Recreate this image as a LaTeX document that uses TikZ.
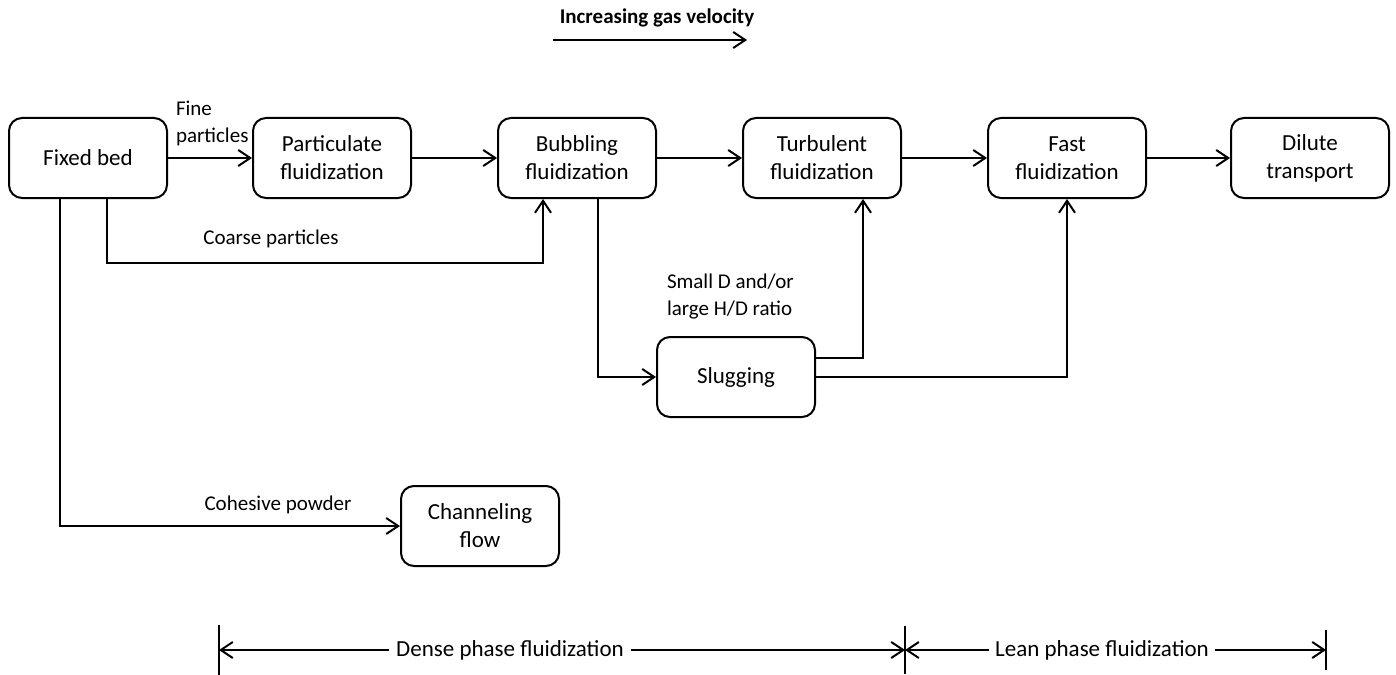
\documentclass[tikz,border=0pt]{standalone}
\usepackage{fontspec}
\setmainfont{Carlito}
\usetikzlibrary{arrows.meta}

\begin{document}
\begin{tikzpicture}[x=.5pt,y=-.5pt,>={Straight Barb[length=6pt,width=8pt]},line width=1pt,
  box/.style={draw,rounded corners=6.5pt,minimum width=79pt,minimum height=40pt,align=center,font=\fontsize{11.5}{14}\selectfont},
  lbl/.style={font=\fontsize{10.5}{13.5}\selectfont,align=left,inner sep=0pt}]
\useasboundingbox (0,0) rectangle (1396,674);

\node[box] (fixed) at (88,158) {Fixed bed};
\node[box] (part) at (332,158) {Particulate\\fluidization};
\node[box] (bub) at (577,158) {Bubbling\\fluidization};
\node[box] (turb) at (822,158) {Turbulent\\fluidization};
\node[box] (fast) at (1067,158) {Fast\\fluidization};
\node[box] (dil) at (1310,158) {Dilute\\transport};
\node[box] (slug) at (736,377) {Slugging};
\node[box] (chan) at (480,526) {Channeling\\flow};

\foreach \a/\b in {fixed/part,part/bub,bub/turb,turb/fast,fast/dil}
{
   \draw[->] (\a) -- (\b);
}

\node[lbl,anchor=west] (fine) at (175,123) {Fine\\particles};
\node[lbl] (coarse) at (271,239) {Coarse particles};
\node[lbl] (cohesive) at (278,505) {Cohesive powder};
\node[lbl,anchor=west] (small) at (666,297) {Small D and/or\\large H/D ratio};

\coordinate (c1) at (543,263);
\coordinate (c2) at (60,528);
\draw[->] ([xshift=9.5pt]fixed.south) |- (c1) -- (bub.south -| c1);
\draw[->] (fixed.south -| c2) |- (chan.west);
\draw[->] ([xshift=10.5pt]bub.south) |- (slug.west);
\draw[->] ([yshift=9.5pt]slug.east) -| ([xshift=20.5pt]turb.south);
\draw[->] (slug.east) -| (fast.south);

\node[font=\bfseries\fontsize{10.5}{13}\selectfont] (incr) at (657,18) {Increasing gas velocity};
\coordinate (v1) at (553,40);
\coordinate (v2) at (747,40);
\draw[->] (v1) -- (v2);

\coordinate (t1) at (219,650);
\coordinate (t2) at (905,650);
\coordinate (t3) at (1326,650);
\foreach \t/\h in {t1/12.5pt,t2/12pt,t3/10pt}
{
   \draw ([yshift=\h]\t) -- ([yshift=-\h]\t);
}
\node[font=\fontsize{11.5}{14}\selectfont] (dense) at (510,650) {Dense phase fluidization};
\node[font=\fontsize{11.5}{14}\selectfont,inner sep=2.5pt] (lean) at (1102,650) {Lean phase fluidization};
\draw[->] (dense) -- (t1);
\draw[->] (dense) -- (t2);
\draw[->] (lean) -- (t2);
\draw[->] (lean) -- (t3);

\end{tikzpicture}
\end{document}
